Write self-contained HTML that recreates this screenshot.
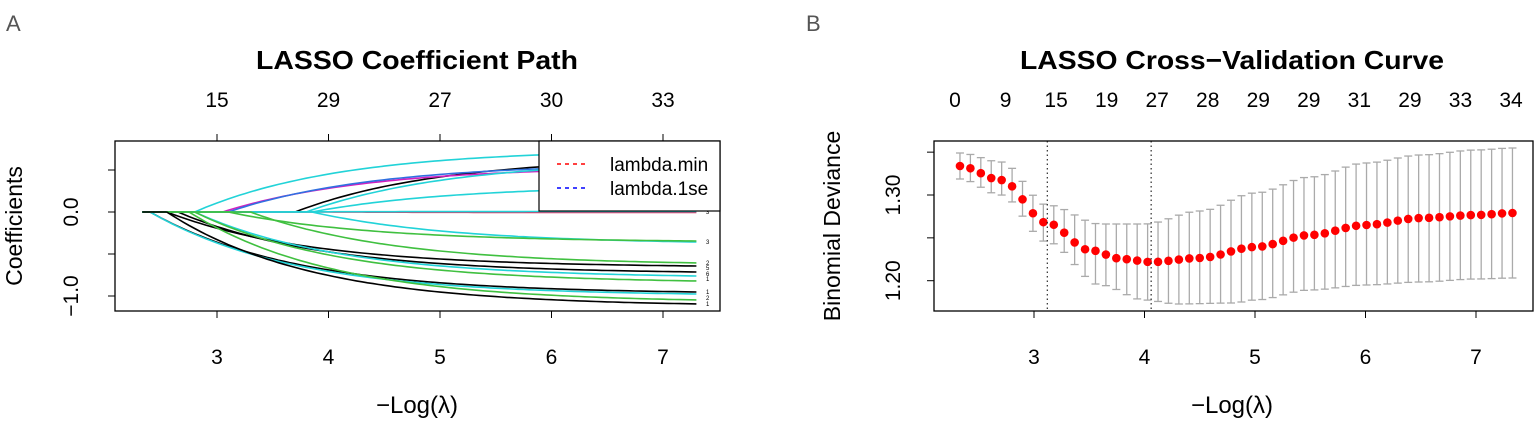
<!DOCTYPE html>
<html><head><meta charset="utf-8"><style>
body{margin:0;background:#fff;width:1535px;height:424px;overflow:hidden}
svg text{font-family:"Liberation Sans",sans-serif}
</style></head><body>
<svg id="s" width="1535" height="424" xmlns="http://www.w3.org/2000/svg">
<text x="6" y="31" font-size="22" fill="#555">A</text>
<text x="806" y="31" font-size="22" fill="#555">B</text>
<text x="417" y="69" font-size="26" font-weight="bold" text-anchor="middle" textLength="322" lengthAdjust="spacingAndGlyphs">LASSO Coefficient Path</text>
<text x="1232" y="69" font-size="26" font-weight="bold" text-anchor="middle" textLength="424" lengthAdjust="spacingAndGlyphs">LASSO Cross−Validation Curve</text>
<rect x="115" y="141" width="605" height="170" fill="none" stroke="#000" stroke-width="1.3"/>
<rect x="934" y="141" width="599" height="170" fill="none" stroke="#000" stroke-width="1.3"/>
<g id="L"></g><g id="R"></g>
<text x="417" y="413" font-size="24" text-anchor="middle">−Log(λ)</text>
<text x="1232" y="413" font-size="24" text-anchor="middle">−Log(λ)</text>
<text transform="translate(22,226) rotate(-90)" font-size="23" text-anchor="middle">Coefficients</text>
<text transform="translate(840,226) rotate(-90)" font-size="23" text-anchor="middle">Binomial Deviance</text>
<rect x="539" y="141" width="181" height="70" fill="#fff" stroke="#000" stroke-width="1.2"/>
<line x1="557" y1="164" x2="587" y2="164" stroke="red" stroke-width="1.5" stroke-dasharray="4,4"/>
<line x1="557" y1="188" x2="587" y2="188" stroke="blue" stroke-width="1.5" stroke-dasharray="4,4"/>
<text x="610" y="171" font-size="19">lambda.min</text>
<text x="610" y="195" font-size="19">lambda.1se</text>
</svg>
<script>
const NS="http://www.w3.org/2000/svg";
function el(p,t,a,txt){const e=document.createElementNS(NS,t);for(const k in a)e.setAttribute(k,a[k]);if(txt!==undefined)e.textContent=txt;p.appendChild(e);return e;}
const L=document.getElementById('L'),R=document.getElementById('R');
const lx=v=>217+(v-3)*111.5, ly=v=>212-v*84;
[3,4,5,6,7].forEach(v=>{el(L,'line',{x1:lx(v),x2:lx(v),y1:311,y2:318,stroke:'#000'});el(L,'text',{x:lx(v),y:364,'font-size':21,'text-anchor':'middle'},v);el(L,'line',{x1:lx(v),x2:lx(v),y1:141,y2:134,stroke:'#000'});});
['15','29','27','30','33'].forEach((t,i)=>el(L,'text',{x:lx(3+i),y:107,'font-size':21,'text-anchor':'middle'},t));
[0.5,0,-0.5,-1].forEach(v=>el(L,'line',{x1:108,x2:115,y1:ly(v),y2:ly(v),stroke:'#000'}));
[[0,'0.0'],[-1,'−1.0']].forEach(([v,t])=>el(L,'text',{transform:`translate(78,${ly(v)}) rotate(-90)`,'font-size':21,'text-anchor':'middle'},t));
const curves=[
['#22d3d8',2.8,151],['#000',3.7,160],['#d020c0',3.05,168],['#3070e0',3.1,165],['#22d3d8',3.8,163],['#22d3d8',3.85,187],
['#e03060',3.9,212.5],['#22d3d8',3.2,211.5],
['#22d3d8',3.85,242],['#40c040',3.1,241],['#40c040',3.3,263],['#000',2.55,266],['#000',2.65,272],['#22d3d8',2.8,276],['#40c040',2.8,281],
['#000',2.4,292],['#22d3d8',2.4,294],['#40c040',2.75,300],['#000',2.55,304]];
const x0=2.33,x1=7.33;
curves.forEach(([c,s,f])=>{let d=`M${lx(x0)},212 L${lx(s)},212`;const fv=(212-f);const k=1.3;const t1=1-Math.exp(-(x1-s)/k);for(let x=s;x<=x1+1e-6;x+=0.05){const t=1-Math.exp(-(x-s)/k);d+=` L${lx(x).toFixed(1)},${(212-fv*t/t1).toFixed(1)}`;}el(L,'path',{d,fill:'none',stroke:c,'stroke-width':1.6});});
[[212,'3'],[242,'3'],[263,'2'],[268,'5'],[274,'6'],[279,'1'],[292,'1'],[298,'2'],[304,'1']].forEach(([y,t])=>el(L,'text',{x:706,y:y+2,'font-size':6},t));
const rx=v=>1034+(v-3)*110.5, ry=v=>195-(v-1.30)*857;
[3,4,5,6,7].forEach(v=>{el(R,'line',{x1:rx(v),x2:rx(v),y1:311,y2:318,stroke:'#000'});el(R,'text',{x:rx(v),y:364,'font-size':21,'text-anchor':'middle'},v);});
['0','9','15','19','27','28','29','29','31','29','33','34'].forEach((t,i)=>{const x=955+i*(1511-955)/11;el(R,'text',{x,y:107,'font-size':21,'text-anchor':'middle'},t);});
[1.35,1.30,1.25,1.20].forEach(v=>el(R,'line',{x1:927,x2:934,y1:ry(v),y2:ry(v),stroke:'#000'}));
[[1.30,'1.30'],[1.20,'1.20']].forEach(([v,t])=>el(R,'text',{transform:`translate(900,${ry(v)}) rotate(-90)`,'font-size':21,'text-anchor':'middle'},t));
function interp(pts,x){for(let i=0;i<pts.length-1;i++){if(x<=pts[i+1][0]){const[a,b]=pts[i],[c,d]=pts[i+1];const t=(x-a)/(c-a);const s=t*t*(3-2*t);return b+(d-b)*s;}}return pts[pts.length-1][1];}
const M=[[2.33,166],[2.7,180],[3.12,223],[3.5,250],[3.8,259],[4.06,262],[4.5,258],[5,247],[5.5,235],[6,225],[6.5,218],[7,215],[7.33,213]];
const U=[[2.33,153],[2.7,162],[3.12,205],[3.6,224],[4.0,224],[4.5,211],[5,193],[5.5,177],[6,163],[6.5,155],[7,150],[7.33,148]];
const Lo=[[2.33,179],[2.7,195],[3.12,242],[3.6,285],[4.0,300],[4.3,304],[4.8,303],[5,300],[5.5,290],[6,285],[6.5,282],[7,279],[7.33,278]];
const N=54;
for(let i=0;i<N;i++){const v=2.33+i*5/(N-1);const X=rx(v);const u=interp(U,v),l=interp(Lo,v),m=interp(M,v);
el(R,'line',{x1:X,x2:X,y1:u,y2:l,stroke:'#aaa','stroke-width':1.3});
el(R,'line',{x1:X-4,x2:X+4,y1:u,y2:u,stroke:'#aaa','stroke-width':1.3});
el(R,'line',{x1:X-4,x2:X+4,y1:l,y2:l,stroke:'#aaa','stroke-width':1.3});
el(R,'circle',{cx:X,cy:m,r:4.3,fill:'red'});}
[3.12,4.06].forEach(v=>el(R,'line',{x1:rx(v),x2:rx(v),y1:141,y2:311,stroke:'#000','stroke-width':1,'stroke-dasharray':'1.5,3'}));
</script>
</body></html>
